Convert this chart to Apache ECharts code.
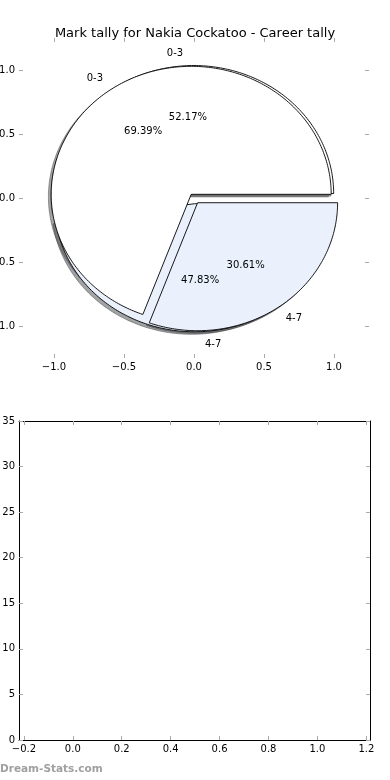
<!DOCTYPE html>
<html><head><meta charset="utf-8">
<script src="https://cdn.jsdelivr.net/npm/echarts@6/dist/echarts.min.js"></script>
<style>html,body{margin:0;padding:0;background:#fff}#c{width:390px;height:780px}</style>
</head><body><div id="c"></div>
<script>
// ---- data ----
const titleText = 'Mark tally for Nakia Cockatoo - Career tally';
const categories = ['0-3', '4-7'];
const lowerPieValues = [12, 11];   // 52.17% / 47.83% (drawn underneath)
const upperPieValues = [34, 15];   // 69.39% / 30.61% (drawn on top)
const pieTicks = [-1, -0.5, 0, 0.5, 1];
const barXTicks = [-0.2, 0, 0.2, 0.4, 0.6, 0.8, 1.0, 1.2];
const barYTicks = [0, 5, 10, 15, 20, 25, 30, 35];
const watermark = 'Dream-Stats.com';

// ---- style ----
const sliceColors = [[255, 255, 255], [234, 240, 252]];
const explode = [0.035, 0.045];
const FONT = '"DejaVu Sans", sans-serif';
const pies = [lowerPieValues, upperPieValues];

const minus = v => (v < 0 ? '\u2212' : '') + Math.abs(v).toFixed(1);

const wedgeItems = [];
pies.forEach((vals, pi) => vals.forEach((v, si) => wedgeItems.push([pi, si])));

function renderWedge(params, api) {
  const pi = api.value(0), si = api.value(1);
  const vals = pies[pi];
  const total = vals.reduce((a, b) => a + b, 0);
  let before = 0;
  for (let k = 0; k < si; k++) before += vals[k];
  const t1 = before / total * 2 * Math.PI;
  const t2 = (before + vals[si]) / total * 2 * Math.PI;
  const mid = (t1 + t2) / 2;
  const ex = explode[si];
  const cx = ex * Math.cos(mid), cy = ex * Math.sin(mid);
  const n = Math.max(8, Math.ceil((t2 - t1) / (Math.PI / 180)));
  function poly(ox, oy) {
    const pts = [api.coord([cx + ox, cy + oy])];
    for (let k = 0; k <= n; k++) {
      const a = t1 + (t2 - t1) * k / n;
      pts.push(api.coord([cx + ox + Math.cos(a), cy + oy + Math.sin(a)]));
    }
    return pts;
  }
  const c = sliceColors[si];
  const sc = 'rgba(' + Math.round(c[0] * 0.3) + ',' + Math.round(c[1] * 0.3) + ',' + Math.round(c[2] * 0.3) + ',0.5)';
  const lx = cx + 1.1 * Math.cos(mid), ly = cy + 1.1 * Math.sin(mid);
  const px = cx + 0.6 * Math.cos(mid), py = cy + 0.6 * Math.sin(mid);
  const lp = api.coord([lx, ly]), pp = api.coord([px, py]);
  const al = lx > cx ? 'left' : 'right';
  return {
    type: 'group',
    children: [
      { type: 'polygon', z2: 1, shape: { points: poly(-0.02, -0.02) },
        style: { fill: sc, stroke: sc, lineWidth: 1 } },
      { type: 'polygon', z2: 2 + pi, shape: { points: poly(0, 0) },
        style: { fill: 'rgb(' + c.join(',') + ')', stroke: '#000', lineWidth: 0.9 } },
      { type: 'text', z2: 10, style: { x: lp[0], y: lp[1], text: categories[si],
        align: al, verticalAlign: 'middle', textAlign: al, textVerticalAlign: 'middle',
        fill: '#000', font: '10px ' + FONT } },
      { type: 'text', z2: 10, style: { x: pp[0], y: pp[1], text: (100 * vals[si] / total).toFixed(2) + '%',
        align: 'center', verticalAlign: 'middle', textAlign: 'center', textVerticalAlign: 'middle',
        fill: '#000', font: '10px ' + FONT } }
    ]
  };
}

const tickStyle = { inside: true, length: 4, lineStyle: { color: '#aaaaaa', width: 1 } };
const lblStyle = { color: '#000', fontSize: 10, fontFamily: FONT };

function axis(kind, grid, pos, min, max, ticks, showLabel, showLine, fmt, extra) {
  return Object.assign({
    type: 'value', gridIndex: grid, position: pos, min: min, max: max,
    axisLine: { show: showLine, onZero: false, lineStyle: { color: '#000', width: 1 } },
    axisTick: Object.assign({ customValues: ticks }, tickStyle),
    axisLabel: Object.assign({ show: showLabel, customValues: ticks, formatter: fmt, margin: 4 }, lblStyle),
    splitLine: { show: false },
    axisPointer: { show: false }
  }, extra || {});
}

const chart = echarts.init(document.getElementById('c'), null, { renderer: 'canvas' });
chart.setOption({
  animation: false,
  backgroundColor: '#fff',
  title: { text: titleText, left: 'center', top: 22,
    textStyle: { fontSize: 13, fontWeight: 'normal', color: '#000', fontFamily: FONT } },
  grid: [
    { left: 19, top: 38, width: 350, height: 320, containLabel: false, outerBoundsMode: 'none' },
    { left: 19, top: 421, width: 351, height: 319, containLabel: false, outerBoundsMode: 'none' }
  ],
  xAxis: [
    axis('x', 0, 'bottom', -1.25, 1.25, pieTicks, true, false, minus),
    axis('x', 0, 'top', -1.25, 1.25, pieTicks, false, false, minus),
    axis('x', 1, 'bottom', -0.22, 1.215, barXTicks, true, true, minus),
    axis('x', 1, 'top', -0.22, 1.215, barXTicks, false, true, minus)
  ],
  yAxis: [
    axis('y', 0, 'left', -1.25, 1.25, pieTicks, true, false, minus),
    axis('y', 0, 'right', -1.25, 1.25, pieTicks, false, false, minus),
    axis('y', 1, 'left', 0, 35, barYTicks, true, true, v => String(v), { interval: 5 }),
    axis('y', 1, 'right', 0, 35, barYTicks, false, true, v => String(v), { interval: 5 })
  ],
  series: [
    { type: 'custom', xAxisIndex: 0, yAxisIndex: 0, renderItem: renderWedge,
      data: wedgeItems, clip: false, silent: true },
    { type: 'line', xAxisIndex: 2, yAxisIndex: 2, data: [], silent: true }
  ],
  graphic: [
    { type: 'text', left: 0, top: 764,
      style: { text: watermark, fill: '#a0a0a0', font: 'bold 10.5px ' + FONT } }
  ]
});
</script>
</body></html>
